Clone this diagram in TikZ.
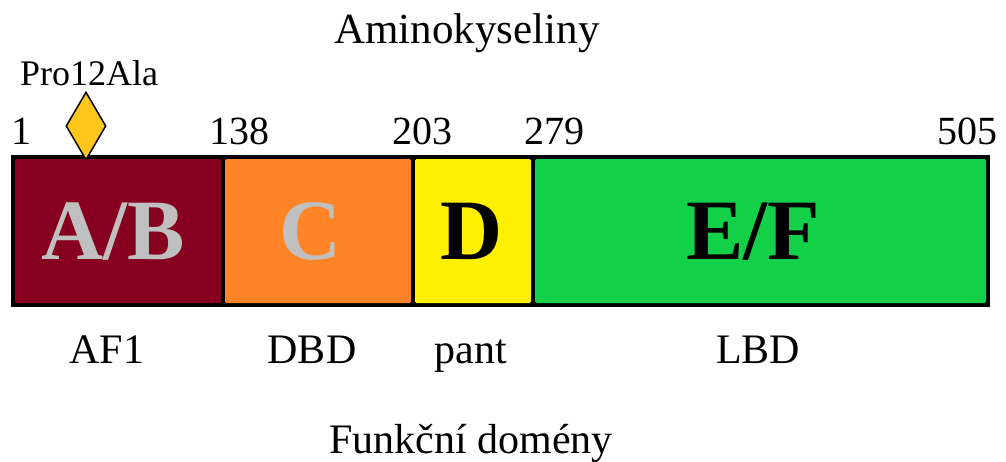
\documentclass[tikz,border=0pt]{standalone}
\usepackage{fontspec}
\setmainfont{Liberation Serif}
\usetikzlibrary{shapes.geometric}
\definecolor{abred}{HTML}{88001F}
\definecolor{corange}{HTML}{FF8327}
\definecolor{dyellow}{HTML}{FFF000}
\definecolor{efgreen}{HTML}{12D048}
\definecolor{mutgold}{HTML}{FFC71C}
\definecolor{lettergray}{HTML}{C0C0C0}
\tikzset{
  label42/.style={font=\fontsize{42}{46}\selectfont, anchor=base, inner sep=0pt},
  posnum/.style={font=\fontsize{40}{44}\selectfont, anchor=base, inner sep=0pt},
  domainbox/.style={rounded corners=1.5pt, draw=none},
  bigletter/.style={font=\fontsize{86}{92}\selectfont\bfseries, anchor=base, inner sep=0pt},
}
\begin{document}
\begin{tikzpicture}[x=1pt,y=-1pt]
  \useasboundingbox (0,0) rectangle (1006,461);

  % whole protein bar (black frame shows between the domains)
  \fill[black] (11,155) rectangle (990,307);

  % domains
  \fill[domainbox, abred]   (15,159)  rectangle (221,303);
  \fill[domainbox, corange] (225,159) rectangle (411,303);
  \fill[domainbox, dyellow] (415,159) rectangle (531,303);
  \fill[domainbox, efgreen] (535,159) rectangle (986,303);

  % domain letters
  \node[bigletter, text=lettergray] (ab) at (113,259) {A/B};
  \node[bigletter, text=lettergray] (c)  at (311,259) {C};
  \node[bigletter, text=black]      (d)  at (472,259) {D};
  \node[bigletter, text=black]      (ef) at (753,259) {E/F};

  % polymorphism marker
  \node[diamond, draw=black, line width=1.5pt, fill=mutgold, inner sep=0pt,
        minimum width=40pt, minimum height=68pt, aspect=0.588] (mut) at (86,126) {};
  \node[font=\fontsize{36}{40}\selectfont, anchor=base, inner sep=0pt] (mutlbl) at (89,85) {Pro12Ala};

  % residue positions
  \node[posnum] (p1)   at (22,144)  {1};
  \node[posnum] (p138) at (239,144) {138};
  \node[posnum] (p203) at (422,144) {203};
  \node[posnum] (p279) at (554,144) {279};
  \node[posnum] (p505) at (967,144) {505};

  % titles
  \node[label42, font=\fontsize{43}{47}\selectfont] (aa) at (467,43) {Aminokyseliny};
  \node[label42] (fd) at (471,453) {Funkční domény};

  % functional domain names
  \node[label42] (af1)  at (107,363) {AF1};
  \node[label42] (dbd)  at (312,363) {DBD};
  \node[label42] (pant) at (471,363) {pant};
  \node[label42] (lbd)  at (758,363) {LBD};
\end{tikzpicture}
\end{document}
